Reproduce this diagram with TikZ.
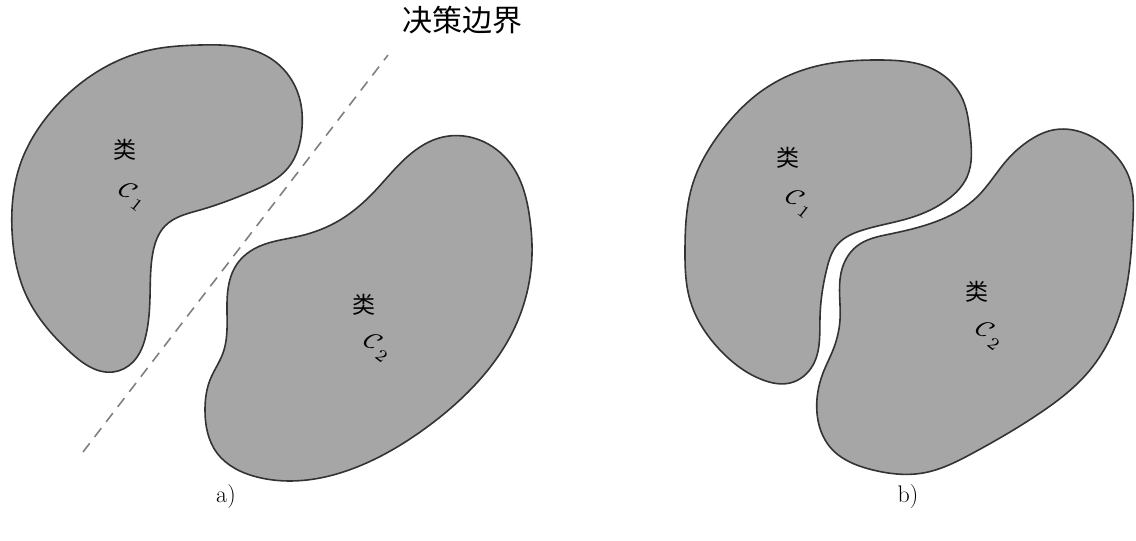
\documentclass[tikz,border=0pt]{standalone}
\usepackage{amsmath}
\usepackage{amssymb}
\usepackage{graphicx}
\usepackage{fontspec}
\newfontfamily\cjk{Noto Sans CJK SC}
\usepackage{tikz}
\usetikzlibrary{hobby}
\usetikzlibrary{positioning}
\newcommand{\clsym}[1]{\scalebox{2.5}{$\mathcal{C}_{\mkern4mu #1}$}}

\begin{document}
\begin{tikzpicture}[
  x=1pt, y=-1pt,
  % blob style for class regions
  blob/.style={draw=black!80,line width=1.6pt,fill=black!35,use Hobby shortcut,closed=true},
  bound/.style={draw=black!50,line width=1.6pt,dash pattern=on 11pt off 8pt},
  cls/.style={inner sep=0pt,font=\cjk\fontsize{23}{26}\selectfont},
  sym/.style={inner sep=0pt,rotate=-38},
  panlabel/.style={inner sep=0pt,font=\fontsize{24}{28}\selectfont}
]
\useasboundingbox (0,0) rectangle (1136,541);

% panel a)
\draw[blob] (200,45) .. (270,58) .. (300,100) .. (302,128) .. (288,168) .. (250,192)
  .. (200,210) .. (165,226) .. (153,252) .. (150,297) .. (146,335) .. (133,362)
  .. (113,372) .. (70,352) .. (27,297) .. (12,230) .. (20,165) .. (50,113) .. (100,70) .. (150,50);
\draw[blob] (443,137) .. (510,163) .. (530,220) .. (532,255) .. (510,337) .. (473,387)
  .. (423,430) .. (357,467) .. (307,480) .. (257,477) .. (217,453) .. (205,410)
  .. (210,380) .. (223,353) .. (227,303) .. (237,264) .. (260,246) .. (300,236)
  .. (340,220) .. (373,193) .. (407,157);

\coordinate (lo) at (83,452);
\coordinate (hi) at (388,55);
\draw[bound] (lo) -- (hi);
\node[cls,font=\cjk\fontsize{30}{34}\selectfont] (bnd) at (462,20) {决策边界};

\node[cls] (k1) at (125,150) {类};
\node[sym] (c1) at (133,196) {\clsym{1}};
\node[cls] (k2) at (364,305) {类};
\node[sym] (c2) at (378,347) {\clsym{2}};
\node[panlabel] (a) at (226,497) {a)};

% panel b)
\draw[blob] (880,60) .. (940,73) .. (963,100) .. (970,133) .. (967,177) .. (947,200)
  .. (913,217) .. (863,230) .. (837,245) .. (827,268) .. (820,317) .. (813,365)
  .. (790,383) .. (763,380) .. (720,350) .. (690,300) .. (685,250) .. (693,183)
  .. (720,133) .. (763,90) .. (813,67);
\draw[blob] (1053,130) .. (1107,147) .. (1130,180) .. (1133,220) .. (1123,303) .. (1090,370)
  .. (1040,413) .. (973,453) .. (923,473) .. (873,470) .. (830,447) .. (817,413)
  .. (823,373) .. (833,350) .. (840,320) .. (841,273) .. (857,246) .. (890,234)
  .. (940,220) .. (977,197) .. (1007,160) .. (1030,140);

\node[cls] (k3) at (788,158) {类};
\node[sym] (c3) at (800,203) {\clsym{1}};
\node[cls] (k4) at (977,292) {类};
\node[sym] (c4) at (990,335) {\clsym{2}};
\node[panlabel] (b) at (908,497) {b)};

\end{tikzpicture}
\end{document}
